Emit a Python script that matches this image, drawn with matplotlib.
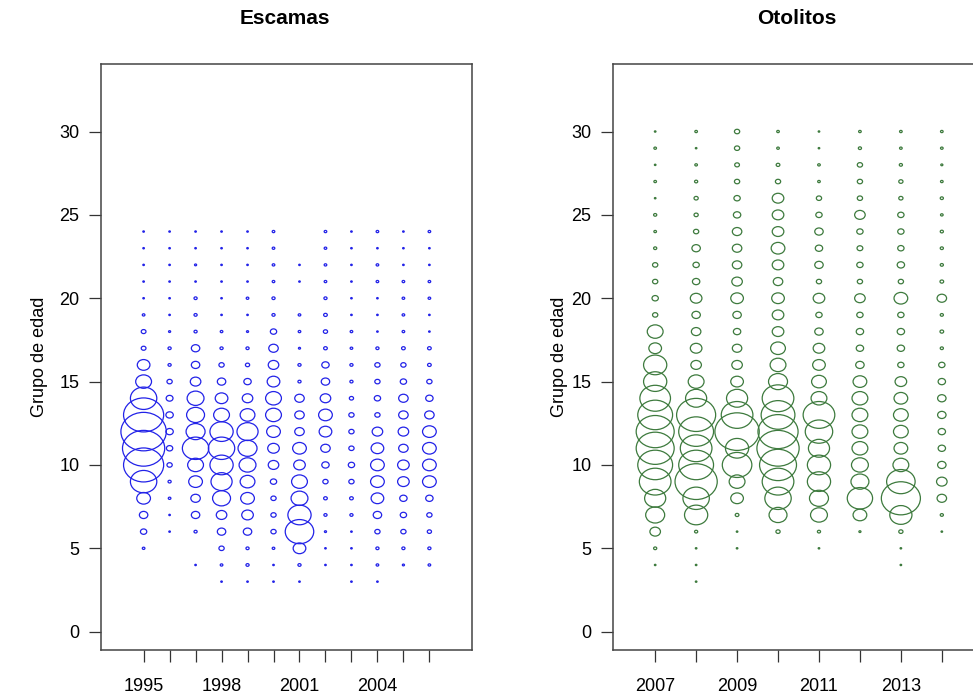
import numpy as np
import matplotlib
matplotlib.use("Agg")
import matplotlib.pyplot as plt
from matplotlib.path import Path
from matplotlib.transforms import Affine2D

plt.rcParams['font.family'] = ['Liberation Sans', 'DejaVu Sans']

# Escamas: años, grupos de edad 3..24, tamaño relativo de burbuja por año
anios_esc = list(range(1995, 2007))
edades_esc = list(range(3, 25))
tam_esc = [
    [0, 0, 2.5, 6, 8, 13, 25, 38, 40, 43, 38, 25, 15, 12, 4.5, 4.5, 2.5, 1.5, 1.5, 1.5, 1.5, 1.5],  # 1995
    [0, 0, 0, 1.5, 1.5, 2.5, 3, 5, 6, 7, 7, 6.5, 5, 3, 3, 2, 1.5, 1.5, 1.5, 1.5, 1.5, 1.5],     # 1996
    [0, 1.5, 0, 3, 8, 9, 13, 15, 25, 18, 17, 16, 10, 8, 8, 3, 3, 3, 1.5, 2, 1.5, 1.5],          # 1997
    [1.5, 2.5, 5, 8, 10, 17, 20, 22, 25, 22, 15, 12, 8, 5, 3, 2.5, 1.5, 1.5, 1.5, 1.5, 1.5, 1.5],  # 1998
    [1.5, 3, 3, 8, 11, 13, 14, 16, 18, 20, 14, 10, 7, 4, 3, 2, 1.5, 2.5, 1.5, 1.5, 1.5, 1.5],   # 1999
    [1.5, 1.5, 2.5, 5, 5, 5, 6, 10, 11, 13, 15, 15, 12, 10, 9, 6, 3, 3, 2.5, 2.5, 2.5, 2.5],    # 2000
    [1.5, 3, 12, 27, 22, 16, 15, 11, 13, 9, 9, 9, 3, 3, 2, 2.5, 2.5, 0, 1.5, 1.5, 0, 0],        # 2001
    [0, 1.5, 1.5, 2, 3, 3.5, 5, 7, 9, 12, 13, 10, 8, 7, 3.5, 4, 3.5, 3, 2.5, 2.5, 2.5, 2.5],    # 2002
    [1.5, 1.5, 1.5, 1.5, 3, 3.5, 5, 6, 5, 5, 5, 4, 3, 3, 2.5, 2.5, 1.5, 1.5, 1.5, 1.5, 1.5, 1.5],  # 2003
    [1.5, 2.5, 3, 5, 8, 12, 13, 13, 12, 10, 5, 6, 5, 5, 3, 1.5, 1.5, 1.5, 2.5, 2.5, 1.5, 2.5],  # 2004
    [0, 2, 3, 5, 6, 7, 11, 11, 9, 10, 9, 9, 6, 5, 3.5, 2.5, 2.5, 2.5, 2.5, 1.5, 1.5, 1.5],      # 2005
    [0, 2.5, 3, 4, 5, 7, 13, 13, 13, 13, 9, 7, 5, 3.5, 3.5, 1.5, 1.5, 2.5, 2.5, 1.5, 1.5, 2.5], # 2006
]

# Otolitos: años, grupos de edad 3..30
anios_oto = list(range(2007, 2015))
edades_oto = list(range(3, 31))
tam_oto = [
    [0, 1.5, 3, 10, 18, 20, 30, 33, 36, 36, 33, 29, 22, 22, 12, 15, 5, 6, 5, 5, 3, 2.5, 3, 1.5, 2.5, 1.5, 2.5, 1.5],  # 2007
    [1.5, 1.5, 1.5, 3, 22, 25, 40, 33, 30, 33, 37, 20, 15, 10, 11, 9, 8, 11, 7, 6, 8, 5, 4, 4, 3, 2.5, 1.5, 2.5],     # 2008
    [0, 0, 1.5, 1.5, 3.5, 12, 15, 28, 22, 42, 30, 20, 12, 10, 9, 7, 8, 12, 10, 9, 9, 9, 7, 6, 5, 4.5, 5, 5],          # 2009
    [0, 0, 0, 4, 17, 25, 30, 35, 40, 38, 32, 30, 18, 15, 14, 11, 11, 12, 9, 11, 13, 11, 11, 11, 5, 3.5, 2.5, 2.5],    # 2010
    [0, 0, 1.5, 3, 16, 18, 22, 22, 20, 26, 30, 15, 14, 12, 11, 8, 6, 11, 5, 8, 7, 8, 6, 5, 2.5, 2.5, 1.5, 1.5],       # 2011
    [0, 0, 0, 2, 13, 24, 17, 16, 15, 15, 15, 15, 13, 8, 7, 7, 6, 10, 5, 6, 5.5, 6, 10, 5, 5, 5, 3, 2.5],              # 2012
    [0, 1.5, 1.5, 4, 21, 37, 27, 15, 13, 14, 14, 13, 11, 6, 7, 7, 6, 13, 5, 7, 6, 6, 6, 4, 4, 3, 2.5, 2.5],           # 2013
    [0, 0, 0, 1.5, 3, 9, 10, 8, 7, 7, 8, 8, 7, 6, 3, 3.5, 3, 9, 3.5, 3, 3, 3, 2.5, 3, 2.5, 2, 2.5, 2.5],              # 2014
]

# marcador elíptico (la imagen original está algo estirada en horizontal)
elipse = Path.unit_circle().transformed(Affine2D().scale(1.18, 1.0))


def burbujas(ax, anios, edades, tam, color):
    xs, ys, ss = [], [], []
    for anio, fila in zip(anios, tam):
        for edad, v in zip(edades, fila):
            if v > 0:
                xs.append(anio)
                ys.append(edad)
                ss.append((v * 0.76) ** 2)
    ax.scatter(xs, ys, s=ss, marker=elipse, facecolors='none',
               edgecolors=color, linewidths=0.9)


def estilo(ax, anios, etiquetas):
    ax.set_ylim(-1.1, 34.05)
    ax.set_yticks(range(0, 31, 5))
    ax.set_xticks(anios)
    ax.set_xticklabels([str(a) if a in etiquetas else '' for a in anios])
    ax.tick_params(axis='both', direction='out', length=8.5, width=0.9,
                   labelsize=13, color='#333333')
    ax.tick_params(axis='x', pad=12)
    ax.tick_params(axis='y', pad=7)
    for sp in ax.spines.values():
        sp.set_color('#444444')
        sp.set_linewidth(1.1)
    ax.set_ylabel('Grupo de edad', fontsize=13)


fig = plt.figure(figsize=(9.73, 6.96), dpi=100)

ax1 = fig.add_axes([101 / 973, 46 / 696, 371 / 973, 586 / 696])
burbujas(ax1, anios_esc, edades_esc, tam_esc, '#2222e8')
ax1.set_xlim(1993.36, 2007.64)
estilo(ax1, anios_esc, [1995, 1998, 2001, 2004])
ax1.yaxis.set_label_coords(-0.143, 0.5)

ax2 = fig.add_axes([613 / 973, 46 / 696, 371 / 973, 586 / 696])
burbujas(ax2, anios_oto, edades_oto, tam_oto, '#3d7a3d')
ax2.set_xlim(2005.97, 2015.03)
estilo(ax2, anios_oto, [2007, 2009, 2011, 2013])
ax2.yaxis.set_label_coords(-0.121, 0.5)

fig.text(285 / 973, 1 - 18 / 696, 'Escamas', ha='center', va='center',
         fontsize=15, fontweight='bold')
fig.text(797 / 973, 1 - 18 / 696, 'Otolitos', ha='center', va='center',
         fontsize=15, fontweight='bold')

fig.savefig('out.png', dpi=100)
